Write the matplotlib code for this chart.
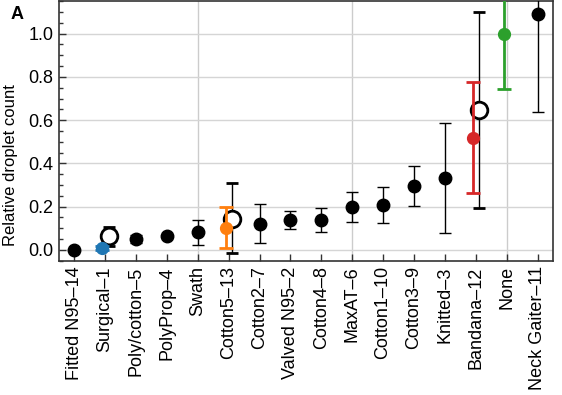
import matplotlib
matplotlib.use("Agg")
import matplotlib.pyplot as plt
from matplotlib.ticker import MultipleLocator

plt.rcParams['font.family'] = ['Liberation Sans', 'DejaVu Sans']

categories = ["Fitted N95\u201314", "Surgical\u20131", "Poly/cotton\u20135", "PolyProp\u20134",
              "Swath", "Cotton5\u201313", "Cotton2\u20137", "Valved N95\u20132", "Cotton4\u20138",
              "MaxAT\u20136", "Cotton1\u201310", "Cotton3\u20139", "Knitted\u20133",
              "Bandana\u201312", "None", "Neck Gaiter\u201311"]

# main (black filled) series: index, value, lower, upper
black_idx = [0, 2, 3, 4, 6, 7, 8, 9, 10, 11, 12, 15]
black_val = [0.0, 0.049, 0.062, 0.083, 0.121, 0.138, 0.140, 0.198, 0.207, 0.297, 0.331, 1.089]
black_lo = [-0.004, 0.031, 0.054, 0.023, 0.034, 0.097, 0.084, 0.128, 0.123, 0.203, 0.077, 0.638]
black_hi = [0.004, 0.068, 0.071, 0.139, 0.211, 0.181, 0.195, 0.268, 0.291, 0.389, 0.585, 1.54]

# open circle series
open_idx = [1, 5, 13]
open_val = [0.065, 0.145, 0.647]
open_lo = [0.018, -0.015, 0.194]
open_hi = [0.108, 0.309, 1.098]

# coloured series
col_idx = [1, 5, 13, 14]
col_val = [0.008, 0.103, 0.518, 1.0]
col_lo = [-0.002, 0.008, 0.262, 0.744]
col_hi = [0.018, 0.198, 0.775, 1.256]
col_colors = ["#1f77b4", "#ff7f0e", "#d62728", "#2ca02c"]

fig = plt.figure(figsize=(5.62, 3.95), dpi=100)
ax = fig.add_axes([0.1045, 0.34, 0.8795, 0.657])

ax.set_xlim(-0.5, 15.5)
ax.set_ylim(-0.05, 1.15)

for g in [4, 9, 14]:
    ax.axvline(g, color="#cccccc", lw=1, zorder=0)
ax.yaxis.grid(True, color="#d5d5d5", lw=1, zorder=0)
ax.set_axisbelow(True)

# black filled
ax.errorbar(black_idx, black_val,
            yerr=[[v - l for v, l in zip(black_val, black_lo)], [h - v for v, h in zip(black_val, black_hi)]],
            fmt='o', color='black', ms=9, elinewidth=1, capsize=4.5, capthick=1, zorder=3)

# open circles
ox = [i + 0.12 for i in open_idx]
ax.errorbar(ox, open_val,
            yerr=[[v - l for v, l in zip(open_val, open_lo)], [h - v for v, h in zip(open_val, open_hi)]],
            fmt='o', mfc='white', mec='black', mew=2, color='black', ms=12, elinewidth=1,
            capsize=4.5, capthick=1, zorder=3)

# coloured
for i, v, l, h, c in zip(col_idx, col_val, col_lo, col_hi, col_colors):
    ax.errorbar([i - 0.1], [v], yerr=[[v - l], [h - v]], fmt='o', color=c, ms=8.5,
                elinewidth=2, capsize=5, capthick=2, zorder=4)

ax.set_xticks(range(len(categories)))
ax.set_xticklabels(categories, rotation=90, fontsize=13)
ax.yaxis.set_major_locator(MultipleLocator(0.2))
ax.yaxis.set_minor_locator(MultipleLocator(0.05))
ax.set_yticks([0.0, 0.2, 0.4, 0.6, 0.8, 1.0])
ax.set_yticklabels(["0.0", "0.2", "0.4", "0.6", "0.8", "1.0"], fontsize=13)
ax.tick_params(axis='both', direction='in', length=5, width=1, color='#333333', pad=4)
ax.tick_params(axis='y', which='minor', direction='in', length=3, width=1, color='#333333')
ax.tick_params(axis='x', which='minor', bottom=False)
ax.set_ylabel("Relative droplet count", fontsize=12)
ax.yaxis.set_label_coords(-0.082, 0.37)

for s in ax.spines.values():
    s.set_color('#333333')
    s.set_linewidth(1.2)

fig.text(0.018, 0.985, "A", fontsize=13, fontweight='bold', va='top', ha='left')

fig.savefig("out.png", dpi=100)
